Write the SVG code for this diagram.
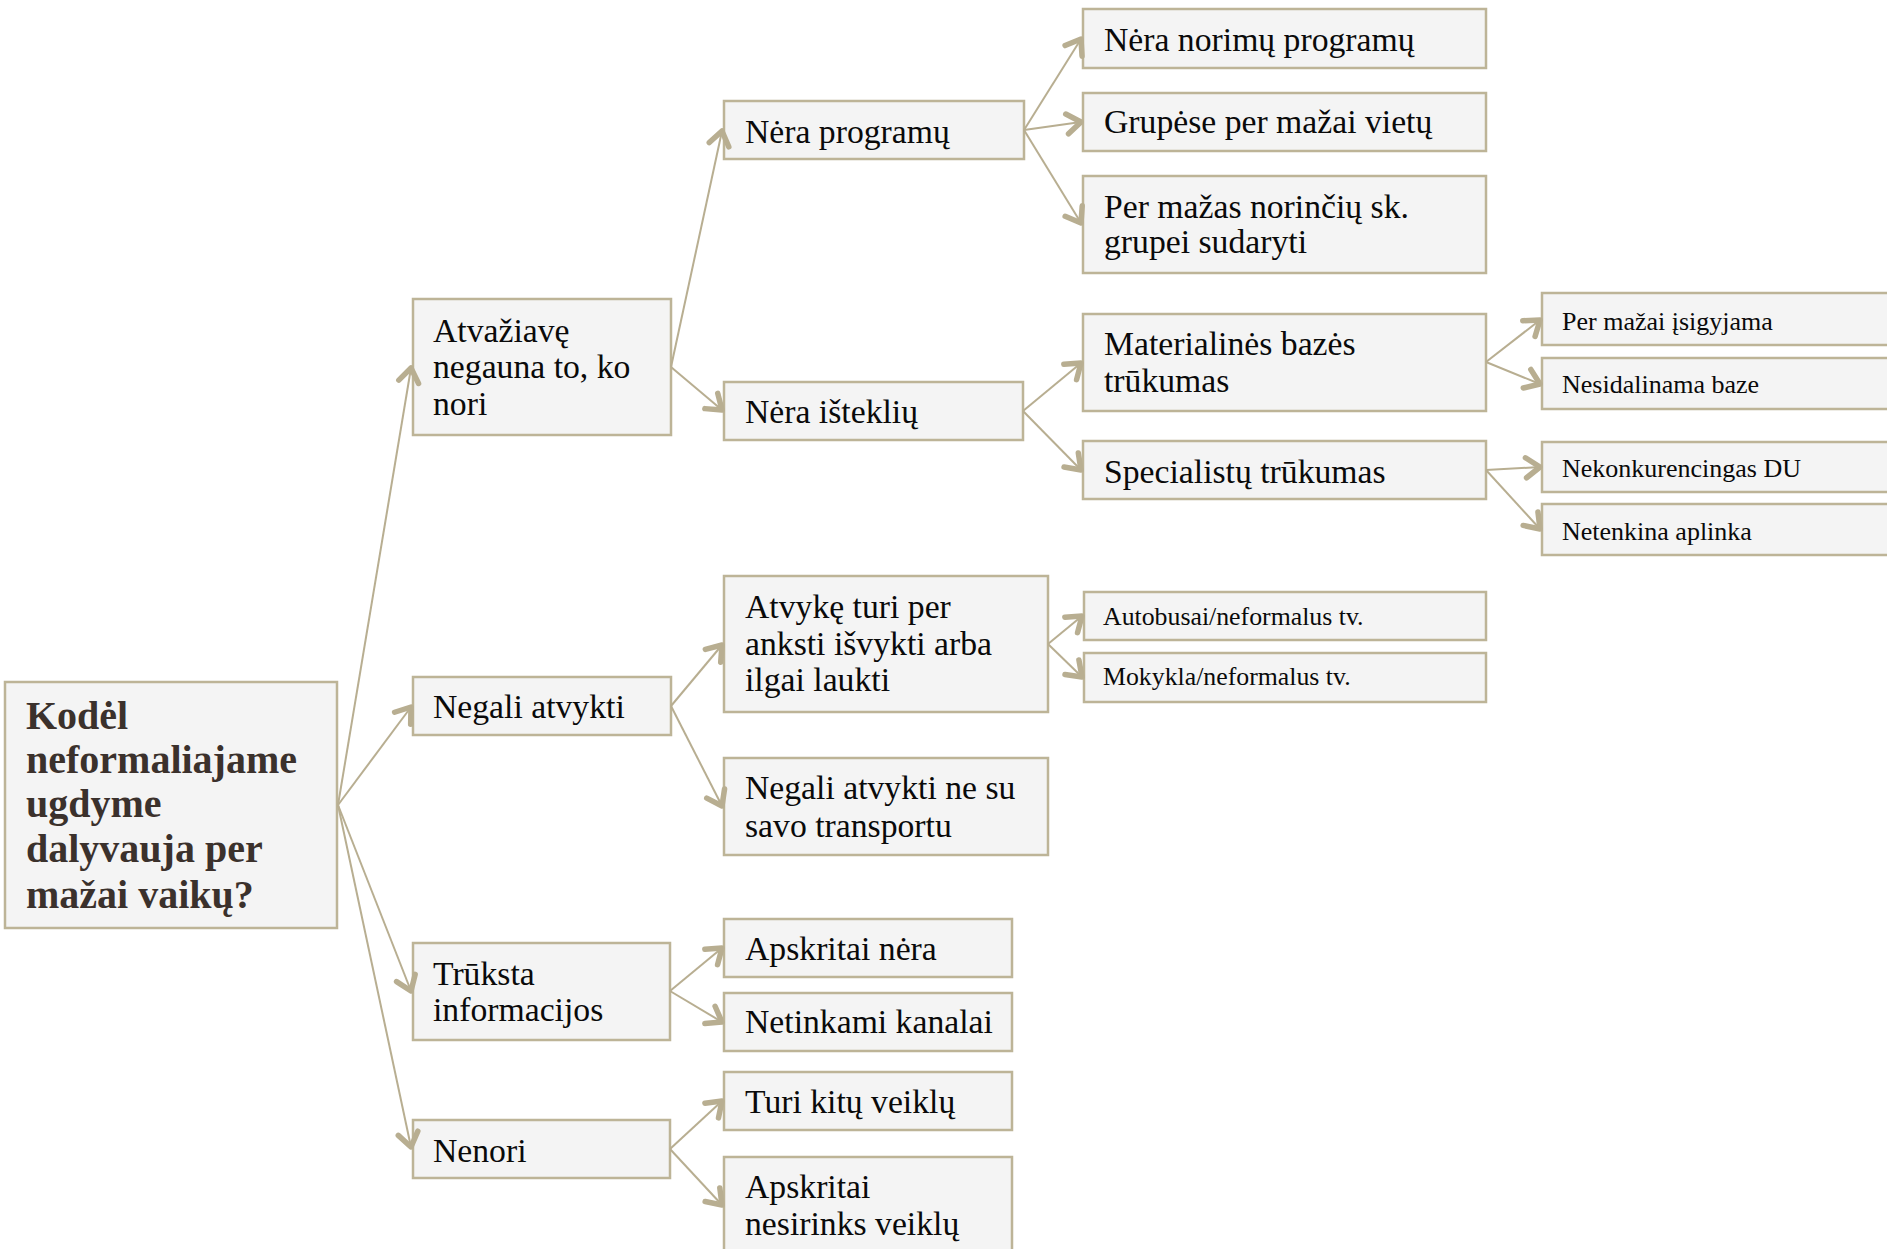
<svg xmlns="http://www.w3.org/2000/svg" width="1887" height="1249" viewBox="0 0 1887 1249">
<style>
.box{fill:#f4f4f4;stroke:#bdb497;stroke-width:2.5}
.t{font-family:"Liberation Serif","Times New Roman",serif;font-size:33.7px;fill:#0a0a0a}
.s{font-size:26px}
.xs{font-size:25.8px}
.root{font-family:"Liberation Serif","Times New Roman",serif;font-size:40px;font-weight:bold;fill:#3b312c}
.c{fill:none;stroke:#b8ae91;stroke-width:2;marker-end:url(#ah)}
</style>
<defs>
<marker id="ah" markerUnits="userSpaceOnUse" markerWidth="40" markerHeight="40" refX="0" refY="0" viewBox="-20 -20 40 40" orient="auto" overflow="visible">
<path d="M-14,-10 L0,0 L-14,10" fill="none" stroke="#b8ae91" stroke-width="5.5" stroke-linecap="round" stroke-linejoin="round"/>
</marker>
</defs>
<rect width="1887" height="1249" fill="#ffffff"/>
<g id="n-root"><rect class="box" x="5" y="682" width="332" height="246"/>
<text class="root" x="26"><tspan x="26" y="729">Kodėl</tspan><tspan x="26" y="773">neformaliajame</tspan><tspan x="26" y="817">ugdyme</tspan><tspan x="26" y="862">dalyvauja per</tspan><tspan x="26" y="908">mažai vaikų?</tspan></text></g>
<g id="n-atvaziave"><rect class="box" x="413" y="299" width="258" height="136"/>
<text class="t"><tspan x="433" y="342">Atvažiavę</tspan><tspan x="433" y="378">negauna to, ko</tspan><tspan x="433" y="415">nori</tspan></text></g>
<g id="n-negali"><rect class="box" x="413" y="677" width="258" height="58"/>
<text class="t" x="433" y="718">Negali atvykti</text></g>
<g id="n-truksta"><rect class="box" x="413" y="943" width="257" height="97"/>
<text class="t"><tspan x="433" y="985">Trūksta</tspan><tspan x="433" y="1021">informacijos</tspan></text></g>
<g id="n-nenori"><rect class="box" x="413" y="1120" width="257" height="58"/>
<text class="t" x="433" y="1162">Nenori</text></g>
<g id="n-nera-programu"><rect class="box" x="724" y="101" width="300" height="58"/>
<text class="t" x="745" y="143">Nėra programų</text></g>
<g id="n-nera-istekliu"><rect class="box" x="724" y="382" width="299" height="58"/>
<text class="t" x="745" y="423">Nėra išteklių</text></g>
<g id="n-atvyke"><rect class="box" x="724" y="576" width="324" height="136"/>
<text class="t"><tspan x="745" y="618">Atvykę turi per</tspan><tspan x="745" y="655">anksti išvykti arba</tspan><tspan x="745" y="691">ilgai laukti</tspan></text></g>
<g id="n-ne-su-savo"><rect class="box" x="724" y="758" width="324" height="97"/>
<text class="t"><tspan x="745" y="799">Negali atvykti ne su</tspan><tspan x="745" y="837">savo transportu</tspan></text></g>
<g id="n-apskritai-nera"><rect class="box" x="724" y="919" width="288" height="58"/>
<text class="t" x="745" y="960">Apskritai nėra</text></g>
<g id="n-netinkami"><rect class="box" x="724" y="993" width="288" height="58"/>
<text class="t" x="745" y="1033">Netinkami kanalai</text></g>
<g id="n-turi"><rect class="box" x="724" y="1072" width="288" height="58"/>
<text class="t" x="745" y="1113">Turi kitų veiklų</text></g>
<g id="n-nesirinks"><rect class="box" x="724" y="1157" width="288" height="100"/>
<text class="t"><tspan x="745" y="1198">Apskritai</tspan><tspan x="745" y="1235">nesirinks veiklų</tspan></text></g>
<g id="n-norimu"><rect class="box" x="1083" y="9" width="403" height="59"/>
<text class="t" x="1104" y="51">Nėra norimų programų</text></g>
<g id="n-grupese"><rect class="box" x="1083" y="93" width="403" height="58"/>
<text class="t" x="1104" y="133">Grupėse per mažai vietų</text></g>
<g id="n-per-mazas"><rect class="box" x="1083" y="176" width="403" height="97"/>
<text class="t"><tspan x="1104" y="218">Per mažas norinčių sk.</tspan><tspan x="1104" y="253">grupei sudaryti</tspan></text></g>
<g id="n-materialines"><rect class="box" x="1083" y="314" width="403" height="97"/>
<text class="t"><tspan x="1104" y="355">Materialinės bazės</tspan><tspan x="1104" y="392">trūkumas</tspan></text></g>
<g id="n-specialistu"><rect class="box" x="1083" y="441" width="403" height="58"/>
<text class="t" x="1104" y="483">Specialistų trūkumas</text></g>
<g id="n-autobusai"><rect class="box" x="1084" y="592" width="402" height="48"/>
<text class="t xs" x="1103" y="625">Autobusai/neformalus tv.</text></g>
<g id="n-mokykla"><rect class="box" x="1084" y="653" width="402" height="49"/>
<text class="t xs" x="1103" y="685">Mokykla/neformalus tv.</text></g>
<g id="n-isigyjama"><rect class="box" x="1542" y="293" width="380" height="52"/>
<text class="t s" x="1562" y="330">Per mažai įsigyjama</text></g>
<g id="n-nesidalinama"><rect class="box" x="1542" y="358" width="380" height="51"/>
<text class="t s" x="1562" y="393">Nesidalinama baze</text></g>
<g id="n-du"><rect class="box" x="1542" y="442" width="380" height="50"/>
<text class="t s" x="1562" y="477">Nekonkurencingas DU</text></g>
<g id="n-aplinka"><rect class="box" x="1542" y="504" width="380" height="51"/>
<text class="t s" x="1562" y="540">Netenkina aplinka</text></g>
<g id="connectors">
<line class="c" x1="338" y1="805" x2="411" y2="368"/>
<line class="c" x1="338" y1="805" x2="411" y2="707"/>
<line class="c" x1="338" y1="805" x2="411" y2="991"/>
<line class="c" x1="338" y1="805" x2="411" y2="1147"/>
<line class="c" x1="671" y1="367" x2="722" y2="131"/>
<line class="c" x1="671" y1="367" x2="722" y2="410"/>
<line class="c" x1="671" y1="706" x2="722" y2="645"/>
<line class="c" x1="671" y1="706" x2="722" y2="806"/>
<line class="c" x1="670" y1="991" x2="722" y2="948"/>
<line class="c" x1="670" y1="991" x2="722" y2="1022"/>
<line class="c" x1="670" y1="1149" x2="722" y2="1101"/>
<line class="c" x1="670" y1="1149" x2="722" y2="1205"/>
<line class="c" x1="1024" y1="130" x2="1081" y2="39"/>
<line class="c" x1="1024" y1="130" x2="1081" y2="122"/>
<line class="c" x1="1024" y1="130" x2="1081" y2="223"/>
<line class="c" x1="1023" y1="411" x2="1081" y2="363"/>
<line class="c" x1="1023" y1="411" x2="1081" y2="470"/>
<line class="c" x1="1486" y1="362" x2="1540" y2="320"/>
<line class="c" x1="1486" y1="362" x2="1540" y2="384"/>
<line class="c" x1="1486" y1="470" x2="1540" y2="467"/>
<line class="c" x1="1486" y1="470" x2="1540" y2="529"/>
<line class="c" x1="1048" y1="644" x2="1082" y2="616"/>
<line class="c" x1="1048" y1="644" x2="1082" y2="677"/>
</g>
</svg>
